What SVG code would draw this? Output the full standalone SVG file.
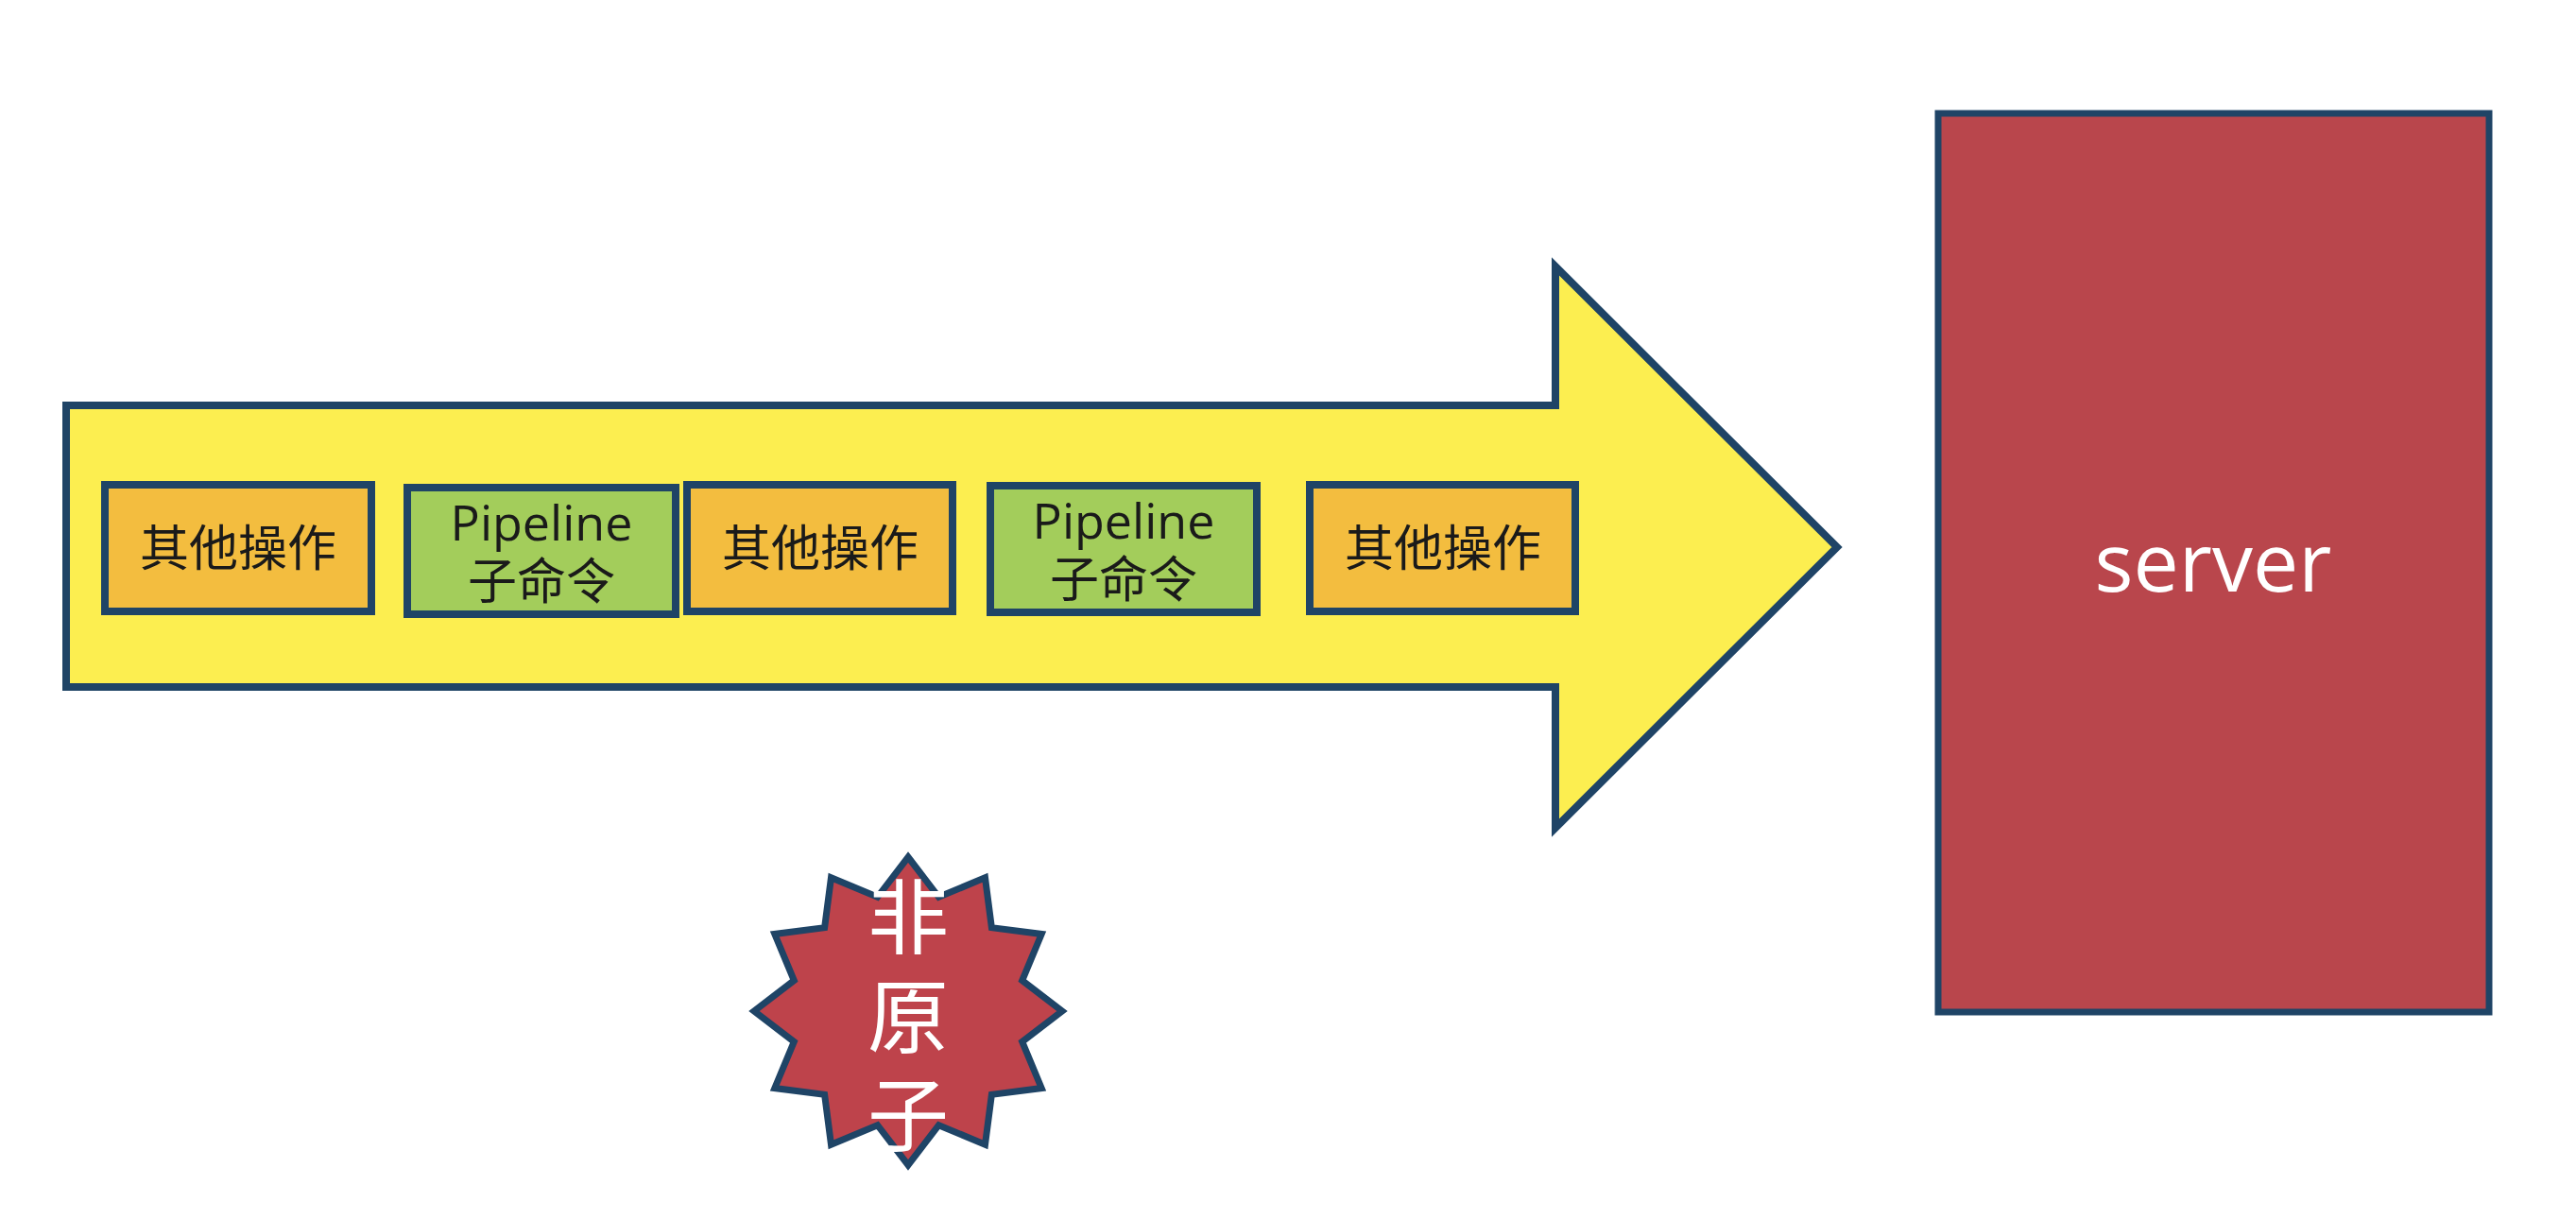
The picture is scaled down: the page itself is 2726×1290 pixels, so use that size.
<svg xmlns="http://www.w3.org/2000/svg" width="2726" height="1290" viewBox="0 0 2726 1290">
<style>
.op{fill:#F3BD3F;stroke:#1F4466;stroke-width:8}
.pl{fill:#A3CD5B;stroke:#1F4466;stroke-width:8}
.bt{font-family:"Open Sans","Noto Sans CJK SC",sans-serif;font-size:52px;fill:#1A1A1A;text-anchor:middle}
.wt{font-family:"Open Sans","Noto Sans CJK SC",sans-serif;fill:#FFFFFF;text-anchor:middle}
</style>
<rect width="2726" height="1290" fill="#FFFFFF"/>
<g id="flow-arrow">
<polygon points="70,429 1646,429 1646,282 1944,579 1646,876 1646,727 70,727" fill="#FCEE50" stroke="#1F4466" stroke-width="8" stroke-linejoin="miter"/>
</g>
<g id="op1"><rect class="op" x="111" y="513" width="282" height="134"/><text class="bt" x="252" y="599">其他操作</text></g>
<g id="pipe1"><rect class="pl" x="431" y="516" width="284" height="134"/><text class="bt" x="573" y="572">Pipeline</text><text class="bt" x="573" y="634">子命令</text></g>
<g id="op2"><rect class="op" x="727" y="513" width="281" height="134"/><text class="bt" x="868" y="599">其他操作</text></g>
<g id="pipe2"><rect class="pl" x="1048" y="514" width="282" height="134"/><text class="bt" x="1189" y="570">Pipeline</text><text class="bt" x="1189" y="632">子命令</text></g>
<g id="op3"><rect class="op" x="1386" y="513" width="281" height="134"/><text class="bt" x="1527" y="599">其他操作</text></g>
<g id="server"><rect x="2051" y="120" width="583" height="951" fill="#B9464C" stroke="#1F4466" stroke-width="7"/><text class="wt" x="2342" y="626" font-size="86">server</text></g>
<g id="non-atomic">
<polygon points="961,907 993.4,949.3 1042.5,928.8 1049.4,981.6 1102.2,988.5 1081.7,1037.6 1124,1070 1081.7,1102.4 1102.2,1151.5 1049.4,1158.4 1042.5,1211.2 993.4,1190.7 961,1233 928.6,1190.7 879.5,1211.2 872.6,1158.4 819.8,1151.5 840.3,1102.4 798,1070 840.3,1037.6 819.8,988.5 872.6,981.6 879.5,928.8 928.6,949.3" fill="#BE434B" stroke="#1F4466" stroke-width="7"/>
<text class="wt" font-size="86" x="961" y="1003">非</text>
<text class="wt" font-size="86" x="961" y="1108">原</text>
<text class="wt" font-size="86" x="961" y="1212">子</text>
</g>
<g id="connectors"></g>
</svg>
